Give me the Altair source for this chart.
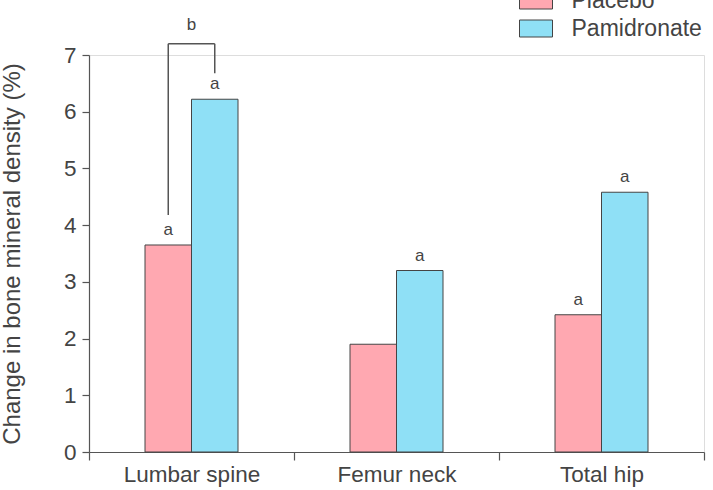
import altair as alt
import pandas as pd

sites = ["Lumbar spine", "Femur neck", "Total hip"]
groups = ["Placebo", "Pamidronate"]
placebo = [3.65, 1.9, 2.42]
pamidronate = [6.22, 3.2, 4.58]
placebo_lbl = ["a", "", "a"]
pamid_lbl = ["a", "a", "a"]

# bracket (Lumbar spine, placebo vs pamidronate)
br_top = 7.2
br_left_bottom = 4.18
br_right_bottom = 6.68
br_label = "b"

rows = []
for i, s in enumerate(sites):
    rows.append({"site": s, "group": "Placebo", "value": placebo[i], "lbl": placebo_lbl[i]})
    rows.append({"site": s, "group": "Pamidronate", "value": pamidronate[i], "lbl": pamid_lbl[i]})
df = pd.DataFrame(rows)

FONT = "Liberation Sans"
GRAY = "#555555"
TXT = "#444444"

W = 615
band = W / 3.0
bw = 46.5

xscale = alt.Scale(domain=sites, paddingInner=0, paddingOuter=0)
yscale = alt.Scale(domain=[0, 7], nice=False)
xoff = alt.XOffset("group:N", sort=groups,
                   scale=alt.Scale(domain=groups, paddingInner=0, paddingOuter=0,
                                   range=[band / 2 - bw, band / 2 + bw]))

x_enc = alt.X("site:N", sort=sites, scale=xscale,
              axis=alt.Axis(title=None, labelAngle=0, tickBand="extent", labelFontSize=22.5,
                            labelFont=FONT, labelColor=TXT, domainColor=GRAY, tickColor=GRAY,
                            tickSize=8, labelPadding=3, domainWidth=1.2, tickWidth=1.2))
y_enc = alt.Y("value:Q", scale=yscale,
              axis=alt.Axis(title="Change in bone mineral density (%)", values=list(range(8)),
                            format="d",
                            grid=False, labelFontSize=22.5, labelFont=FONT, labelColor=TXT,
                            titleFontSize=24, titleFont=FONT, titleColor=TXT, titleFontWeight="normal",
                            domainColor=GRAY, tickColor=GRAY, tickSize=7, labelPadding=6,
                            titlePadding=39, domainWidth=1.2, tickWidth=1.2))

bars = alt.Chart(df).mark_bar(stroke="#444444", strokeWidth=1).encode(
    x=x_enc,
    xOffset=xoff,
    y=y_enc,
    color=alt.Color("group:N", sort=groups,
                    scale=alt.Scale(domain=groups, range=["#FFA8B1", "#8FE0F6"]),
                    legend=alt.Legend(title=None, orient="none", legendX=435.5, legendY=-66,
                                      symbolType="M-1.65,-0.85 L1.65,-0.85 L1.65,0.85 L-1.65,0.85 Z",
                                      symbolSize=400, symbolStrokeColor="#444444", symbolStrokeWidth=1,
                                      labelFontSize=23, labelFont=FONT, labelColor=TXT,
                                      labelOffset=24, rowPadding=4)),
)

labels = alt.Chart(df).mark_text(baseline="bottom", dy=-6, fontSize=17, font=FONT, color=TXT).encode(
    x=alt.X("site:N", sort=sites, scale=xscale),
    xOffset=xoff,
    y=alt.Y("value:Q", scale=yscale),
    text="lbl:N",
)

vdf = pd.DataFrame([
    {"site": sites[0], "group": "Placebo", "y": br_left_bottom, "y2": br_top},
    {"site": sites[0], "group": "Pamidronate", "y": br_right_bottom, "y2": br_top},
])
vrules = alt.Chart(vdf).mark_rule(color=GRAY, strokeWidth=1.5).encode(
    x=alt.X("site:N", sort=sites, scale=xscale),
    xOffset=xoff,
    y=alt.Y("y:Q", scale=yscale),
    y2="y2:Q",
)

bp_left = (band / 2 - bw / 2) / band
bp_right = (band / 2 + bw / 2) / band
hdf = pd.DataFrame([{"site": sites[0], "y": br_top, "lbl": br_label}])
hrule = alt.Chart(hdf).mark_rule(color=GRAY, strokeWidth=1.5).encode(
    x=alt.X("site:N", sort=sites, scale=xscale, bandPosition=bp_left),
    x2=alt.X2("site:N", bandPosition=bp_right),
    y=alt.Y("y:Q", scale=yscale),
)
btext = alt.Chart(hdf).mark_text(baseline="bottom", dy=-10, fontSize=17, font=FONT, color=TXT).encode(
    x=alt.X("site:N", sort=sites, scale=xscale),
    y=alt.Y("y:Q", scale=yscale),
    text="lbl:N",
)

chart = alt.layer(bars, labels, vrules, hrule, btext).properties(
    width=W, height=397,
    autosize=alt.AutoSizeParams(type="none"),
    padding={"left": 89, "top": 55, "right": 9, "bottom": 38},
).configure_view(stroke=None).configure(background="white")

chart.save("out.html", embed_options={"renderer": "svg", "actions": False})
